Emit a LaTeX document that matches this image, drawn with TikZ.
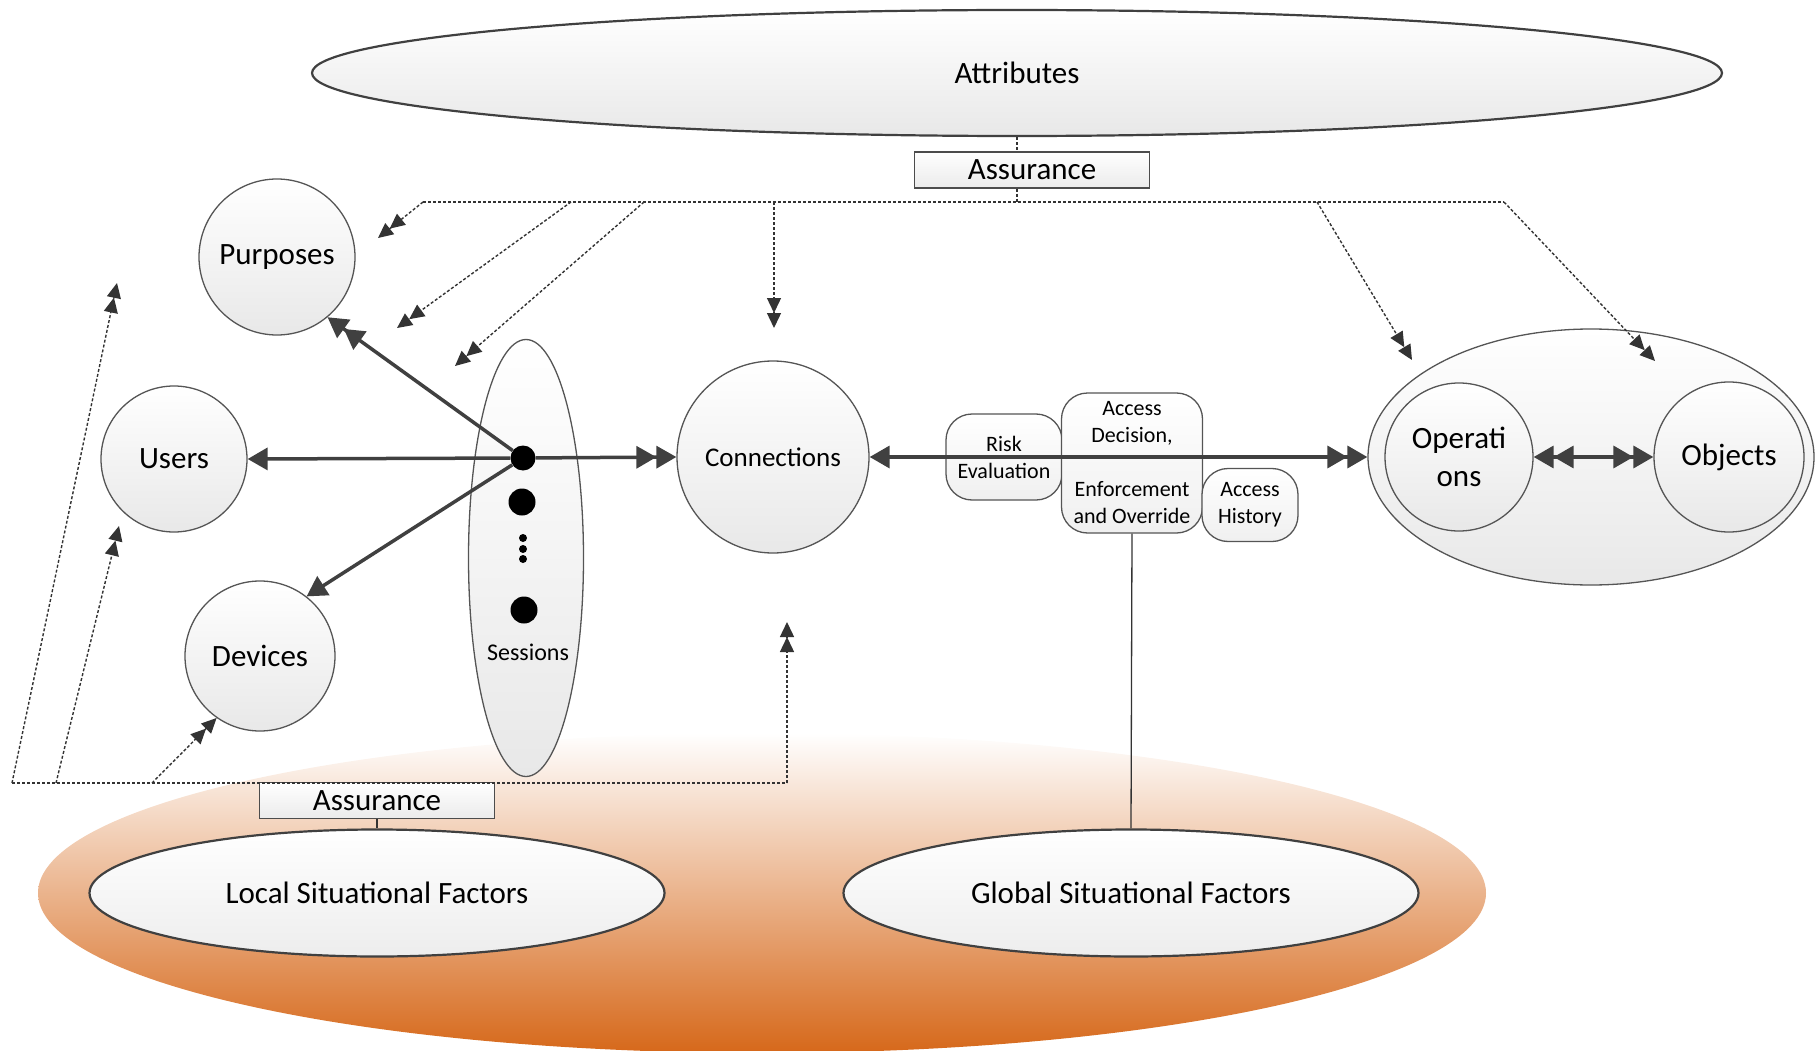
\documentclass[tikz,border=0pt]{standalone}
\usepackage{fontspec}
\setmainfont{Carlito}
\usetikzlibrary{shapes.geometric, arrows.meta, positioning}

\newcommand{\bigtxt}{\fontsize{31}{38}\selectfont}
\newcommand{\midtxt}{\fontsize{27}{32}\selectfont}
\newcommand{\sesstxt}{\fontsize{24}{28}\selectfont}
\newcommand{\boxtxt}{\fontsize{22}{27}\selectfont}

\definecolor{edgegray}{RGB}{64,64,64}
\definecolor{rimgray}{RGB}{85,85,85}
\definecolor{burnt}{RGB}{214,104,26}

\tikzset{
  ent/.style={circle, draw=rimgray, line width=1.3pt, top color=white, bottom color=black!9,
    inner sep=0pt, align=center, font=\bigtxt},
  oval/.style={ellipse, draw=rimgray, line width=1.3pt, top color=white, bottom color=black!9,
    inner sep=0pt, font=\bigtxt},
  factor/.style={ellipse, draw=black!75, line width=2.2pt, top color=white, bottom color=black!7,
    inner sep=0pt, minimum width=575pt, minimum height=127pt, font=\bigtxt},
  assur/.style={rectangle, draw=black!70, line width=1.5pt, top color=white, bottom color=black!8,
    minimum width=235pt, minimum height=36pt, inner sep=0pt, font=\bigtxt},
  stage/.style={rectangle, rounded corners=26pt, draw=rimgray, line width=1.3pt,
    top color=white, bottom color=black!6, inner sep=0pt, align=center, font=\boxtxt},
  sdot/.style={circle, fill=black, inner sep=0pt, minimum size=#1},
  flow/.style={draw=edgegray, line width=3.5pt},
  tipone/.style={-{Triangle[length=20pt,width=22pt]}},
  tiptwo/.style={-{Triangle[length=20pt,width=22pt]Triangle[length=20pt,width=22pt]}},
  hint/.style={draw=black!80, line width=1.4pt, dash pattern=on 3pt off 2pt},
  hinttip/.style={-{Triangle[length=15pt,width=14pt]Triangle[length=15pt,width=14pt]}},
  link/.style={draw=black!80, line width=1.3pt}
}

\begin{document}
\begin{tikzpicture}[x=1pt,y=-1pt]
  \useasboundingbox (0,0) rectangle (1817,1051);

  % situational factors
  \node[ellipse, minimum width=1448pt, minimum height=320pt, inner sep=0pt,
    top color=white, bottom color=burnt] (situation) at (762,893) {};
  \node[factor] (local) at (377,893) {Local Situational Factors};
  \node[factor] (global) at (1131,893) {Global Situational Factors};
  \node[assur, above=9pt of local] (assurBot) {Assurance};

  % attributes
  \node[oval, minimum width=1410pt, minimum height=126pt, line width=2.2pt, draw=black!75]
    (attributes) at (1017,73) {Attributes};
  \node[assur] (assurTop) at (1032,170) {Assurance};

  % subjects and sessions
  \node[ent, minimum size=156pt] (purposes) at (277,257) {Purposes};
  \node[ent, minimum size=146pt] (users) at (174,459) {Users};
  \node[ent, minimum size=150pt] (devices) at (260,656) {Devices};

  \node[oval, minimum width=115pt, minimum height=437pt] (sessions) at (526,558) {};
  \node[sdot=25pt] (s1) at (523,458) {};
  \node[sdot=27pt] (s2) at (522,502) {};
  \node[sdot=8pt] (v1) at (523,538) {};
  \node[sdot=8pt] (v2) at (523,549) {};
  \node[sdot=8pt] (v3) at (523,559) {};
  \node[sdot=27pt] (s3) at (524,610) {};
  \node[font=\sesstxt] (sesslabel) at (528,652) {Sessions};

  \node[ent, minimum size=192pt, font=\midtxt] (connections) at (773,457) {Connections};

  % decision chain
  \node[stage, minimum width=116pt, minimum height=86pt] (risk) at (1004,457) {Risk\\Evaluation};
  \node[stage, minimum width=141pt, minimum height=140pt] (decision) at (1132,463)
    {Access\\Decision,\\[27pt]Enforcement\\and Override};
  \node[stage, minimum width=96pt, minimum height=73pt] (history) at (1250,505) {Access\\History};

  % operations and objects
  \node[oval, minimum width=446pt, minimum height=256pt] (opsobj) at (1591,457) {};
  \node[ent, minimum size=148pt] (operations) at (1459,457) {Operati\\ons};
  \node[ent, minimum size=150pt] (objects) at (1729,457) {Objects};

  % solid flows
  \draw[flow, tiptwo] (s1) -- (connections.west);
  \draw[flow, tiptwo] (s1) -- (purposes.-50);
  \draw[flow, tipone] (s1) -- (users.east);
  \draw[flow, tipone] (s1) -- (devices.52);
  \draw[flow, {Triangle[length=20pt,width=22pt]}-{Triangle[length=20pt,width=22pt]Triangle[length=20pt,width=22pt]}]
    (connections.east) -- (opsobj.west);
  \draw[flow, {Triangle[length=20pt,width=22pt]Triangle[length=20pt,width=22pt]}-{Triangle[length=20pt,width=22pt]Triangle[length=20pt,width=22pt]}]
    (operations.east) -- (objects.west);

  \draw[link] (decision.south) -- (global.north);
  \draw[link] (assurBot.south) -- (local.north);

  % top assurance links
  \coordinate (tl) at (423,202);
  \coordinate (tr) at (1504,202);
  \coordinate (ta) at (571,202);
  \coordinate (tb) at (644,202);
  \coordinate (tc) at (774,202);
  \coordinate (td) at (1317,202);
  \coordinate (aimPur) at (378,238);
  \coordinate (aimA) at (397,328);
  \coordinate (aimB) at (455,366);
  \coordinate (aimConnTop) at (774,328);
  \coordinate (aimOps) at (1412,360);
  \coordinate (aimObj) at (1655,361);

  \draw[hint] (attributes.south) -- (attributes.south |- assurTop.north);
  \draw[hint] (attributes.south |- assurTop.south) -- (attributes.south |- tl);
  \draw[hint] (tl) -- (tr);
  \draw[hint, hinttip] (tl) -- (aimPur);
  \draw[hint, hinttip] (ta) -- (aimA);
  \draw[hint, hinttip] (tb) -- (aimB);
  \draw[hint, hinttip] (tc) -- (aimConnTop);
  \draw[hint, hinttip] (td) -- (aimOps);
  \draw[hint, hinttip] (tr) -- (aimObj);

  % bottom assurance links
  \coordinate (bl) at (12,783);
  \coordinate (bm) at (56,783);
  \coordinate (bd) at (152,783);
  \coordinate (br) at (787,783);
  \coordinate (aimUp1) at (117,283);
  \coordinate (aimUp2) at (119,526);
  \coordinate (aimConn) at (787,622);

  \draw[hint] (bl) -- (br);
  \draw[hint, hinttip] (br) -- (aimConn);
  \draw[hint, hinttip] (bl) -- (aimUp1);
  \draw[hint, hinttip] (bm) -- (aimUp2);
  \draw[hint, hinttip] (bd) -- (devices.-125);

\end{tikzpicture}
\end{document}
